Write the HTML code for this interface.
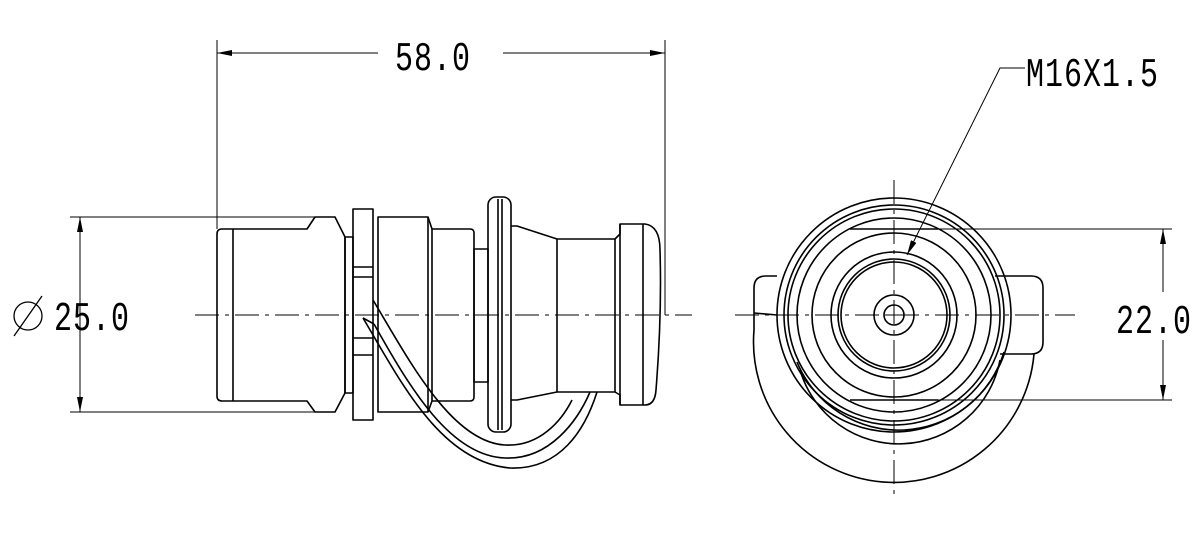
<!DOCTYPE html>
<html><head><meta charset="utf-8"><style>
html,body{margin:0;padding:0;background:#fff;}
svg{display:block;}
text{font-family:"Liberation Mono",monospace;font-size:30px;fill:#000;letter-spacing:1px;}
</style></head><body>
<svg width="1200" height="536" viewBox="0 0 1200 536" xmlns="http://www.w3.org/2000/svg">
<defs>
<marker id="ar" viewBox="0 0 10 4" refX="10" refY="2" markerWidth="20" markerHeight="6" markerUnits="userSpaceOnUse" orient="auto-start-reverse"><path d="M0,0 L10,2 L0,4z" fill="#000"/></marker>
</defs>
<g fill="none" stroke="#000" stroke-width="1">
<line x1="217" y1="40" x2="217" y2="229"/>
<line x1="665" y1="40" x2="665" y2="315"/>
<line x1="217" y1="53" x2="378" y2="53" marker-start="url(#ar)"/>
<line x1="503" y1="53" x2="665" y2="53" marker-end="url(#ar)"/>
<line x1="70" y1="217" x2="330" y2="217"/>
<line x1="70" y1="412" x2="330" y2="412"/>
<line x1="80" y1="217" x2="80" y2="412" marker-start="url(#ar)" marker-end="url(#ar)"/>
<line x1="850" y1="229" x2="1172" y2="229"/>
<line x1="850" y1="400" x2="1172" y2="400"/>
<line x1="1163" y1="229" x2="1163" y2="292" marker-start="url(#ar)"/>
<line x1="1163" y1="340" x2="1163" y2="400" marker-end="url(#ar)"/>
<polyline points="1025,68 1000,68 907,255" marker-end="url(#ar)"/>
<line x1="195" y1="315" x2="692" y2="315" stroke-dasharray="24,6,4,6"/>
<line x1="735" y1="315" x2="1075" y2="315" stroke-dasharray="24,6,4,6"/>
<line x1="894" y1="180" x2="894" y2="500" stroke-dasharray="24,6,4,6"/>
</g>
<g fill="none" stroke="#000" stroke-width="1.6" stroke-linejoin="round">
<path d="M307,229 H222 Q217,229 217,234 V396 Q217,401 222,401 H307 L315,412 H335 L345,393 V237 L335,217 H315 Z"/>
<line x1="233" y1="229" x2="233" y2="401"/>
<rect x="345" y="237" width="8" height="156"/>
<rect x="353" y="209" width="20" height="211"/>
<line x1="353" y1="267" x2="373" y2="267"/><line x1="353" y1="277" x2="373" y2="277"/>
<line x1="353" y1="338" x2="373" y2="338"/><line x1="353" y1="355" x2="373" y2="355"/>
<path d="M378,217 H428 L432,229 V401 L428,412 H378 Z"/>
<path d="M432,229 H470 Q474,229 474,233 V397 Q474,401 470,401 H432"/>
<line x1="428" y1="217" x2="428" y2="412"/>
<rect x="474" y="249" width="14" height="133"/>
<rect x="488" y="197" width="23" height="235" rx="8"/>
<line x1="498" y1="199" x2="498" y2="430"/><line x1="502" y1="199" x2="502" y2="430"/>
<path d="M511,226 L517,226 L557,239 H615 L620,234 V224 H645 Q660,226 660,250 Q662,315 656,390 Q655,405 645,405 H620 V395 L615,392 H557 L517,400 H511"/>
<line x1="557" y1="239" x2="557" y2="392"/>
<line x1="615" y1="239" x2="615" y2="392"/>
<line x1="620" y1="224" x2="620" y2="405"/>
<line x1="643" y1="224" x2="643" y2="405"/>
<!-- cable -->
<path d="M363,318 C400,380 440,462 510,468 C560,470 585,430 597,392"/>
<path d="M374,324 C410,388 450,456 505,458 C550,460 578,420 590,392"/>
<path d="M373,300 C410,362 452,442 505,445 C540,447 562,420 572,400"/>
<path d="M363,318 L374,324"/>
</g>
<g fill="none" stroke="#000" stroke-width="1.6">
<circle cx="894" cy="315" r="117"/>
<circle cx="894" cy="315" r="110"/>
<circle cx="894" cy="315" r="106"/>
<circle cx="894" cy="315" r="97"/>
<circle cx="894" cy="315" r="82"/>
<circle cx="894" cy="315" r="63"/>
<circle cx="894" cy="315" r="56"/>
<circle cx="894" cy="315" r="53"/>
<circle cx="894" cy="315" r="20"/>
<circle cx="894" cy="315" r="10"/>
<path d="M800,370 A103,103 0 0 0 1000,360"/>
<path d="M797,362 A110,110 0 0 0 1004,352"/>
<line x1="850" y1="229" x2="938" y2="229"/>
<line x1="850" y1="400" x2="938" y2="400"/>
<path d="M777,276 H766 Q754,276 754,288 V330 A140,140 0 0 0 1034,354"/>
<path d="M995,276 H1031 Q1043,276 1043,288 V342 Q1043,354 1031,354 H1000"/>
<line x1="754" y1="313" x2="777" y2="315"/>
</g>
<g stroke="#000" stroke-width="1"><line x1="888" y1="315" x2="900" y2="315"/><line x1="894" y1="309" x2="894" y2="321"/></g>
<g fill="none" stroke="#000" stroke-width="1.3"><circle cx="28" cy="316" r="14"/><line x1="14" y1="336" x2="42" y2="296"/></g>
<text transform="translate(395,70) scale(1,1.35)">58.0</text>
<text transform="translate(54,330) scale(1,1.35)">25.0</text>
<text transform="translate(1116,333) scale(1,1.35)">22.0</text>
<text transform="translate(1026,86) scale(1,1.35)">M16X1.5</text>
</svg>
</body></html>
